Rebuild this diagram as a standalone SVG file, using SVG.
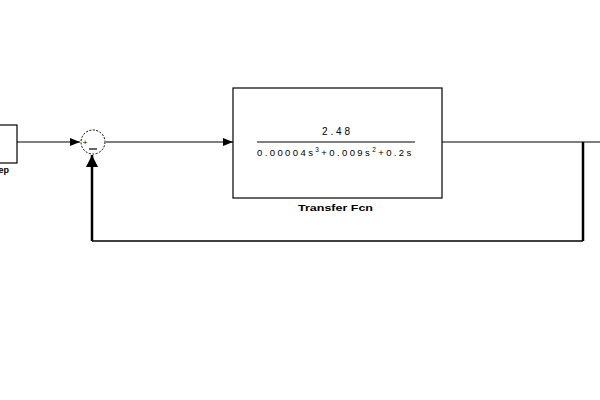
<svg xmlns="http://www.w3.org/2000/svg" width="600" height="400" viewBox="0 0 600 400">
<style>
.blk{fill:#fff;stroke:#000;stroke-width:1.2}
.ln{fill:none;stroke:#000;stroke-width:1.2}
.thick{fill:none;stroke:#000;stroke-width:2.5}
.t{font-family:"Liberation Sans",Arial,sans-serif;fill:#000}
.lbl{font-family:"Liberation Sans",Arial,sans-serif;font-weight:bold;font-size:9px;fill:#000}
</style>
<defs>
<marker id="ah" viewBox="0 0 10 10" refX="10" refY="5" markerWidth="10" markerHeight="10" markerUnits="userSpaceOnUse" orient="auto">
<path d="M0,1 L10,5 L0,9 Z" fill="#000"/>
</marker>
<marker id="ahb" viewBox="0 0 10 10" refX="10" refY="5" markerWidth="12" markerHeight="12" markerUnits="userSpaceOnUse" orient="auto">
<path d="M0,0 L10,5 L0,10 Z" fill="#000"/>
</marker>
</defs>
<rect width="600" height="400" fill="#fff"/>
<g id="connectors">
<line class="ln" x1="17" y1="142" x2="80" y2="142" marker-end="url(#ah)"/>
<line class="ln" x1="106" y1="142" x2="233" y2="142" marker-end="url(#ah)"/>
<line class="ln" x1="442" y1="142" x2="600" y2="142"/>
<polyline class="thick" points="583,142 583,241"/>
<line class="ln" x1="583" y1="241" x2="92" y2="241" style="stroke-width:1.6"/>
<line class="thick" x1="92" y1="241" x2="92" y2="155" marker-end="url(#ahb)"/>
</g>
<g id="step">
<rect class="blk" x="-10" y="125" width="27" height="38"/>
<text class="lbl" x="9" y="173" text-anchor="end">Step</text>
</g>
<g id="sum">
<circle cx="93" cy="142" r="12" fill="#fff" stroke="#000" stroke-width="1" stroke-dasharray="2,1.5"/>
<text class="t" x="85" y="145" font-size="8" text-anchor="middle">+</text>
<line x1="89" y1="149" x2="97" y2="149" stroke="#000" stroke-width="1.2"/>
</g>
<g id="tf">
<rect class="blk" x="233" y="88" width="209" height="110"/>
<text class="t" x="322" y="135" font-size="10" textLength="28" lengthAdjust="spacing">2.48</text>
<line x1="257" y1="142" x2="415" y2="142" stroke="#000" stroke-width="1"/>
<text class="t" x="257" y="156" font-size="9.5" letter-spacing="2.4">0.00004s<tspan font-size="6.5" dy="-4">3</tspan><tspan dy="4">+0.009s</tspan><tspan font-size="6.5" dy="-4">2</tspan><tspan dy="4">+0.2s</tspan></text>
<text class="lbl" x="298" y="211" font-size="10" textLength="75" lengthAdjust="spacingAndGlyphs">Transfer Fcn</text>
</g>
</svg>
